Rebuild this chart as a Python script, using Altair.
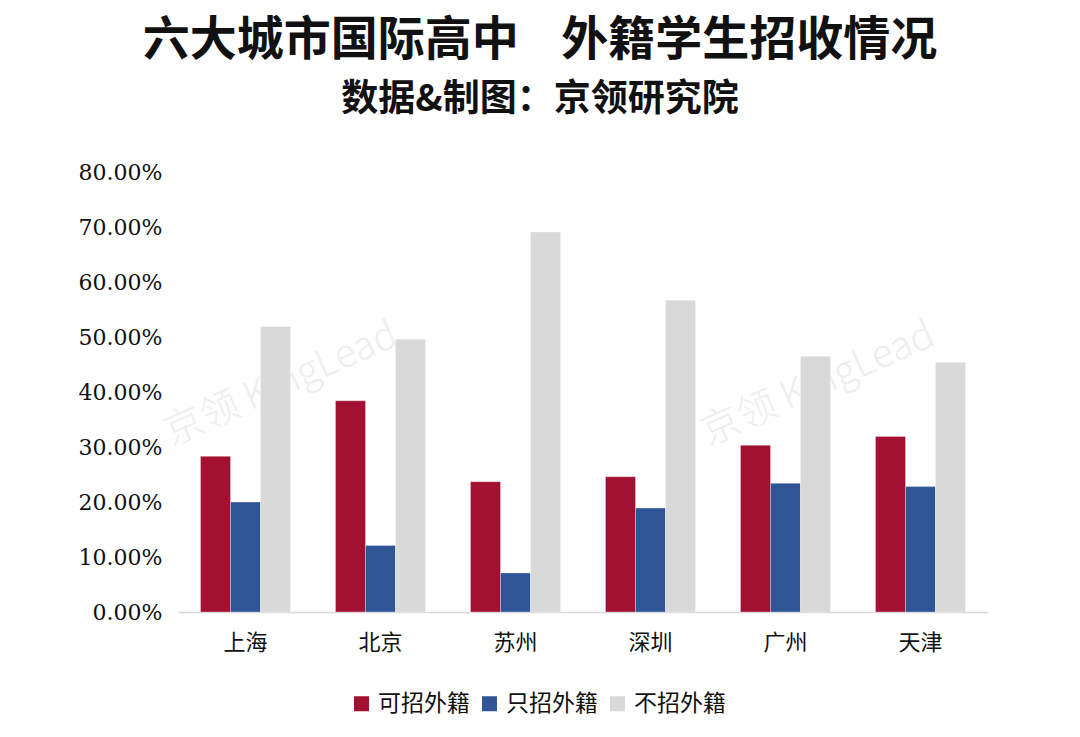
import altair as alt
import pandas as pd

cities = ["上海", "北京", "苏州", "深圳", "广州", "天津"]
series = ["可招外籍", "只招外籍", "不招外籍"]
can_enroll = [0.283, 0.384, 0.237, 0.246, 0.303, 0.319]
only_foreign = [0.200, 0.121, 0.071, 0.189, 0.234, 0.228]
no_foreign = [0.519, 0.496, 0.691, 0.567, 0.465, 0.454]
colors = ["#A31132", "#2F5597", "#D9D9D9"]
y_ticks = [0, 0.1, 0.2, 0.3, 0.4, 0.5, 0.6, 0.7, 0.8]

rows = []
for i, c in enumerate(cities):
    for s, vals in zip(series, [can_enroll, only_foreign, no_foreign]):
        rows.append({"city": c, "series": s, "value": vals[i]})
df = pd.DataFrame(rows)

wm = pd.DataFrame({"t": ["京领  KingLead", "京领  KingLead"], "px": [103, 640], "py": [212, 212]})

CJK = "Noto Sans CJK SC"
NUM = "DejaVu Serif"

watermark = alt.Chart(wm).mark_text(
    font=CJK, fontSize=39, fontWeight=300, color="#EEEEEE", angle=336, align="center", baseline="middle"
).encode(
    x=alt.X("px:Q", scale=alt.Scale(domain=[0, 810]), axis=None),
    y=alt.Y("py:Q", scale=alt.Scale(domain=[440, 0]), axis=None),
    text="t:N",
)

bars = alt.Chart(df).mark_bar(stroke="white", strokeWidth=0.6, strokeOpacity=0.5).encode(
    x=alt.X(
        "city:N",
        sort=cities,
        scale=alt.Scale(paddingInner=0.3333, paddingOuter=0.1667),
        axis=alt.Axis(
            title=None, labelAngle=0, labelFont=CJK, labelFontSize=22, labelColor="#111111",
            ticks=False, labelPadding=20, domainColor="#D9D9D9", domainWidth=1.5,
        ),
    ),
    xOffset=alt.XOffset("series:N", sort=series, scale=alt.Scale(paddingInner=0, paddingOuter=0)),
    y=alt.Y(
        "value:Q",
        scale=alt.Scale(domain=[0, 0.8], nice=False),
        axis=alt.Axis(
            title=None, values=y_ticks, format=".2%", labelFont=NUM, labelFontSize=22,
            labelColor="#111111", ticks=False, domain=False, grid=False, labelPadding=16,
        ),
    ),
    color=alt.Color(
        "series:N",
        sort=series,
        scale=alt.Scale(domain=series, range=colors),
        legend=alt.Legend(
            title=None, orient="none", direction="horizontal", legendX=172, legendY=520,
            symbolType="square", symbolSize=225, symbolStrokeWidth=0, labelFont=CJK,
            labelFontSize=23, labelColor="#111111", columnPadding=8, labelOffset=5,
        ),
    ),
)

chart = alt.layer(watermark, bars).resolve_scale(x="independent", y="independent").properties(
    width=810,
    height=440,
    background="white",
    title=alt.TitleParams(
        text="六大城市国际高中\u00a0\u00a0\u00a0\u00a0外籍学生招收情况",
        subtitle="数据&制图：京领研究院",
        font=CJK,
        fontSize=47,
        fontWeight="bold",
        subtitleFont=CJK,
        subtitleFontSize=37,
        subtitleFontWeight="bold",
        color="#111111",
        subtitleColor="#111111",
        anchor="middle",
        dx=-43,
        offset=40,
        subtitlePadding=17,
        dy=-2,
    ),
    padding={"left": 178, "top": 172, "right": 92, "bottom": 125},
    autosize=alt.AutoSizeParams(type="none"),
).configure_view(stroke=None, strokeWidth=0)

chart.save("out.html", embed_options={"renderer": "svg", "actions": False})
